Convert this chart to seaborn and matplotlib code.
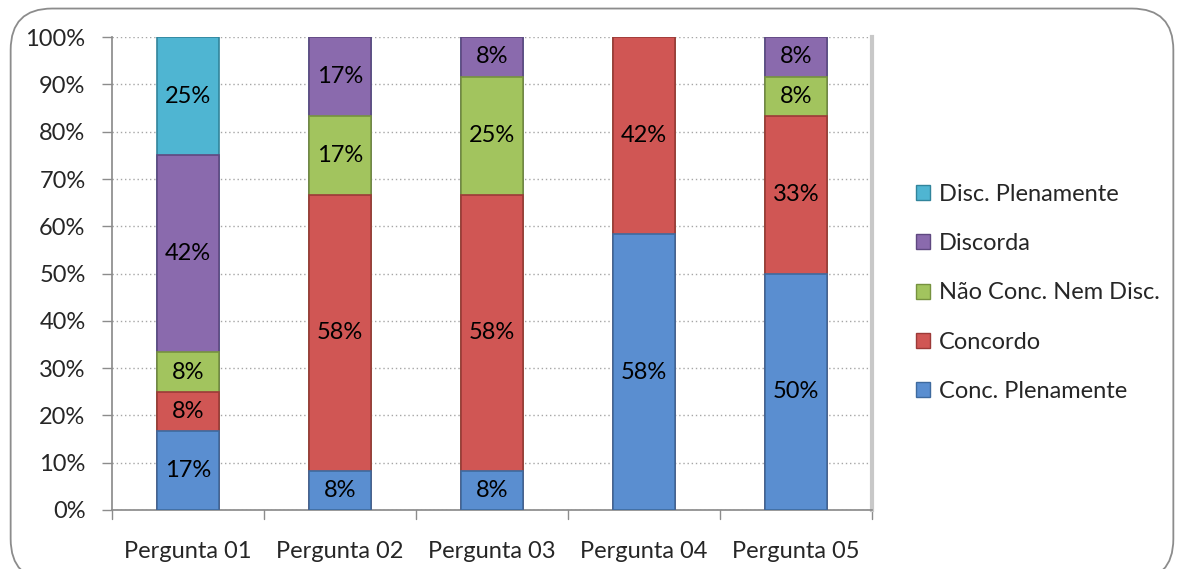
import matplotlib
matplotlib.use("Agg")
import matplotlib.pyplot as plt
from matplotlib.patches import FancyBboxPatch, Patch
import numpy as np
import pandas as pd
import seaborn as sns

# Survey answers per question (percent of respondents)
questions = ["Pergunta 01", "Pergunta 02", "Pergunta 03", "Pergunta 04", "Pergunta 05"]
conc_plenamente = [16.67, 8.33, 8.33, 58.33, 50.00]
concordo = [8.33, 58.33, 58.33, 41.67, 33.33]
nao_conc_nem_disc = [8.33, 16.67, 25.00, 0.00, 8.33]
discorda = [41.67, 16.67, 8.33, 0.00, 8.33]
disc_plenamente = [25.00, 0.00, 0.00, 0.00, 0.00]

series_names = ["Conc. Plenamente", "Concordo", "Não Conc. Nem Disc.",
                "Discorda", "Disc. Plenamente"]
series_values = [conc_plenamente, concordo, nao_conc_nem_disc, discorda, disc_plenamente]
colors = ["#5A8ED0", "#D05654", "#A2C45E", "#8A6AAD", "#4FB5D2"]
edge_colors = ["#3E6A9E", "#9C3A38", "#76923F", "#5F4880", "#31849B"]

sns.set_theme(style="white")
plt.rcParams["font.family"] = ["Lato", "DejaVu Sans"]
FS = 17

fig = plt.figure(figsize=(11.84, 5.69), dpi=100)
ax = fig.add_axes([0.0946, 0.1037, 0.642, 0.831])

# Rounded chart border
border = FancyBboxPatch((0.009, -0.02), 0.982, 1.005,
                        boxstyle="round,pad=0,rounding_size=0.035",
                        transform=fig.transFigure, facecolor="none",
                        edgecolor="#8C8C8C", linewidth=1.3, clip_on=False,
                        mutation_aspect=1184 / 569)
fig.patches.append(border)

data = pd.DataFrame({"question": questions})
cum = np.zeros(len(questions))
cum_levels = []
for vals in series_values:
    cum = cum + np.array(vals)
    cum_levels.append(cum.copy())

# Stack by overlaying cumulative totals, tallest first
for i in reversed(range(len(series_names))):
    data["total"] = cum_levels[i]
    sns.barplot(data=data, x="question", y="total", color=colors[i],
                width=0.41, edgecolor=edge_colors[i], linewidth=1.2,
                saturation=1, ax=ax, zorder=3)

# Segment labels
for i, vals in enumerate(series_values):
    for j, v in enumerate(vals):
        if v <= 0:
            continue
        mid = cum_levels[i][j] - v / 2
        ax.text(j, mid, f"{v:.0f}%", ha="center", va="center",
                fontsize=FS, color="black", zorder=5)

ax.set_xlim(-0.5, len(questions) - 0.5)
ax.set_ylim(0, 100)
ax.set_yticks(np.arange(0, 101, 10))
ax.set_yticklabels([f"{t}%" for t in range(0, 101, 10)], fontsize=FS)
ax.set_xlabel("")
ax.set_ylabel("")
ax.tick_params(axis="x", labelsize=FS, length=0, pad=22)
ax.tick_params(axis="y", length=7, width=1, color="#8C8C8C", direction="out",
               left=True, pad=12)
for t in np.arange(-0.5, len(questions), 1.0):
    ax.plot([t, t], [0, -0.018], transform=ax.get_xaxis_transform(),
            color="#8C8C8C", lw=1, clip_on=False)

ax.yaxis.grid(True, linestyle=(0, (1, 2)), color="#A6A6A6", linewidth=1)
ax.set_axisbelow(True)
ax.spines["top"].set_visible(False)
ax.spines["left"].set_color("#8C8C8C")
ax.spines["bottom"].set_color("#8C8C8C")
ax.spines["right"].set_color("#C8C8C8")
ax.spines["right"].set_linewidth(3)

handles = [Patch(facecolor=colors[i], edgecolor=edge_colors[i], label=series_names[i])
           for i in reversed(range(len(series_names)))]
ax.legend(handles=handles, loc="center left", bbox_to_anchor=(1.058, 0.459),
          frameon=False, fontsize=FS, handlelength=0.6, handleheight=0.6,
          handletextpad=0.35, labelspacing=1.2, borderpad=0, borderaxespad=0)

fig.savefig("out.png", dpi=100)
